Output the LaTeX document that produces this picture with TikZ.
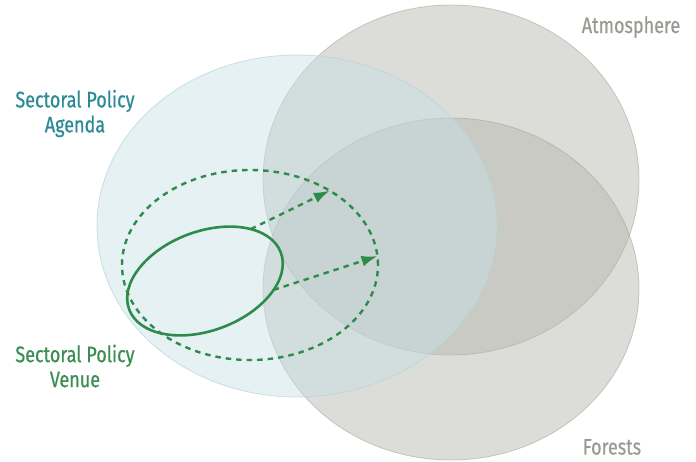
\documentclass[tikz,border=0pt]{standalone}
\usepackage{fontspec}
\setmainfont[FakeStretch=0.80,FakeBold=0.6]{Fira Sans}
\usetikzlibrary{shapes.geometric,arrows.meta}
\definecolor{tealtxt}{HTML}{2B8A96}
\definecolor{greentxt}{HTML}{3A8E52}
\definecolor{graytxt}{HTML}{9A9A92}
\definecolor{venuegreen}{HTML}{2E8B4A}
\definecolor{grayfill}{HTML}{B6B6AE}
\definecolor{grayedge}{HTML}{A4A49C}
\definecolor{tealfill}{HTML}{C6E1E5}
\definecolor{tealedge}{HTML}{B4D4D8}
\tikzset{
  blob/.style={ellipse, inner sep=0pt, outer sep=0pt},
  graysphere/.style={blob, fill=grayfill, fill opacity=0.48, draw=grayedge, draw opacity=0.55, line width=0.8pt},
  tealsphere/.style={blob, fill=tealfill, fill opacity=0.45, draw=tealedge, draw opacity=0.7, line width=0.8pt},
  venue/.style={blob, draw=venuegreen, line width=2.6pt},
  venuedash/.style={blob, draw=venuegreen, line width=2.4pt, dash pattern=on 5.5pt off 5pt},
  growth/.style={draw=venuegreen, line width=2.4pt, dash pattern=on 5.5pt off 5pt, -{Latex[length=16pt,width=11pt]}},
  lbl/.style={font=\fontsize{22.5}{25}\selectfont, align=center, inner sep=0pt}
}
\begin{document}
\begin{tikzpicture}[x=1pt,y=-1pt]
\useasboundingbox (0,0) rectangle (696,461);
\node[graysphere, minimum width=376pt, minimum height=350pt] (atm) at (451,180) {};
\node[graysphere, minimum width=376pt, minimum height=342pt] (for) at (451,289) {};
\node[tealsphere, minimum width=400pt, minimum height=342pt] (agenda) at (297,226) {};
\node[venuedash, minimum width=256pt, minimum height=190pt] (outer) at (250,265) {};
\node[venue, minimum width=162pt, minimum height=99pt, rotate=20.6] (inner) at (205,281) {};
\draw[growth] (inner.28) -- (outer.43);
\draw[growth] (inner.-28) -- (outer.4);
\node[lbl, text=tealtxt] (agendalbl) at (75,113.5) {Sectoral Policy\\Agenda};
\node[lbl, text=greentxt] (venuelbl) at (75,366) {Sectoral Policy\\Venue};
\node[lbl, text=graytxt] (atmlbl) at (631,27) {Atmosphere};
\node[lbl, text=graytxt] (forlbl) at (612,447) {Forests};
\end{tikzpicture}
\end{document}
